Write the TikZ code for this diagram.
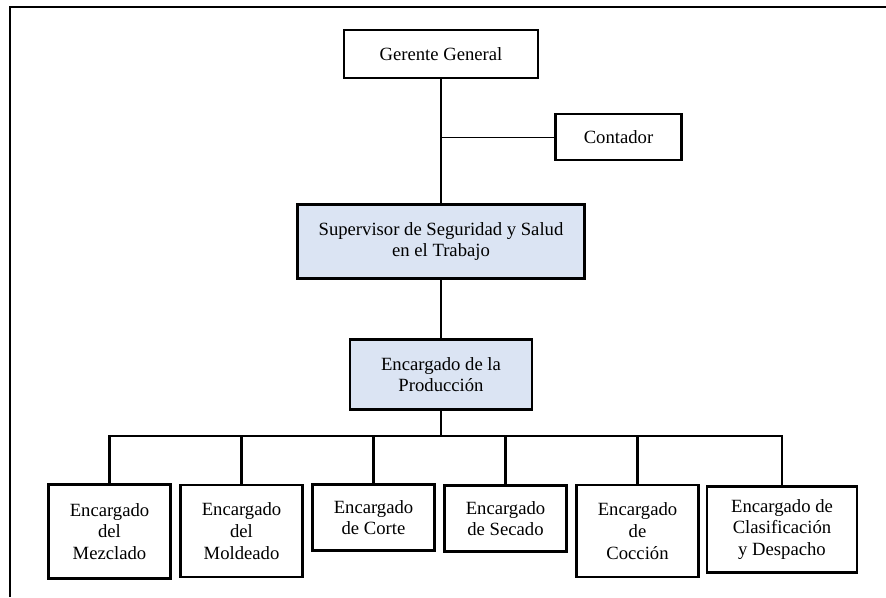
\documentclass[tikz,border=0pt]{standalone}
\usepackage{fontspec}
\setmainfont{Liberation Serif}
\usepackage{xcolor}
\definecolor{cajaazul}{RGB}{219,228,243}

\begin{document}
\begin{tikzpicture}[x=0.75pt, y=-0.75pt,
        caja/.style={draw, line width=2.1pt, inner sep=0pt, align=center,
            font=\fontsize{14}{16.3}\selectfont},
        cajaazul/.style={caja, fill=cajaazul},
        linea/.style={line width=1.8pt}]
    \useasboundingbox (0,0) rectangle (886,597);
    \draw[line width=2pt] (10,597) -- (10,7) -- (886,7);

    \node[caja, minimum width=145.5pt, minimum height=36pt] (gg) at (441,54) {Gerente General};
    \node[caja, minimum width=95pt, minimum height=34.5pt] (cont) at (618.5,137) {Contador};
    \node[cajaazul, minimum width=215pt, minimum height=56pt] (sup) at (441,241.5) {Supervisor de Seguridad y Salud\\en el Trabajo};
    \node[cajaazul, minimum width=136.5pt, minimum height=53pt] (prod) at (441,374.5) {Encargado de la\\Producción};

    \node[caja, minimum width=92pt, minimum height=70pt] (mez) at (109.5,531.5) {Encargado\\del\\Mezclado};
    \node[caja, minimum width=92pt, minimum height=69pt] (mol) at (241.5,531) {Encargado\\del\\Moldeado};
    \node[caja, minimum width=92pt, minimum height=49pt] (cor) at (373.5,517.5) {Encargado\\de Corte};
    \node[caja, minimum width=92pt, minimum height=49pt] (sec) at (505.5,518.5) {Encargado\\de Secado};
    \node[caja, minimum width=92pt, minimum height=69pt] (coc) at (637.5,531) {Encargado\\de\\Cocción};
    \node[caja, minimum width=112.5pt, minimum height=65pt] (cla) at (782,529.5) {Encargado de\\Clasificación\\y Despacho};

    \coordinate (bus) at (441,436);
    \draw[linea] (gg) -- (sup);
    \draw[line width=0.75pt] (cont.west) -- (cont.west -| gg.south);
    \draw[linea] (sup) -- (prod);
    \draw[linea] (prod) -- (bus);
    \foreach \n in {mez,mol,cor,sec,coc,cla}
        \draw[linea] (\n.north) |- (bus);
\end{tikzpicture}
\end{document}
